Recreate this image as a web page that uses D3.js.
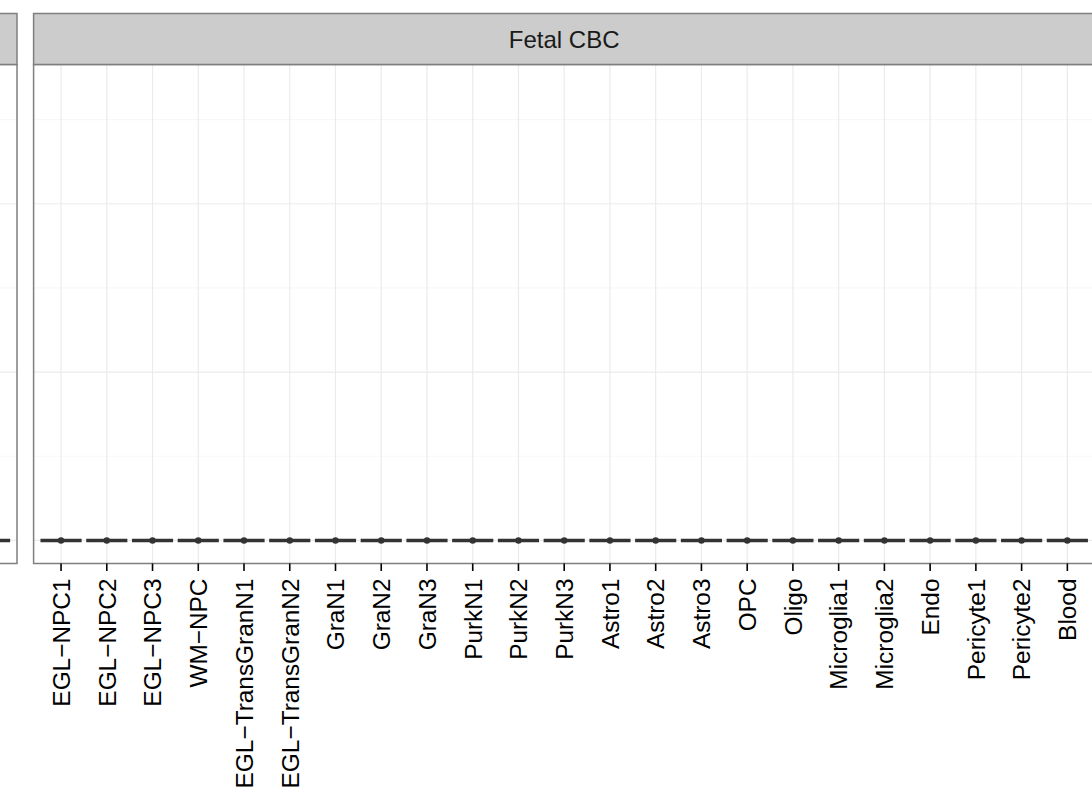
<!DOCTYPE html>
<html>
<head>
<meta charset="utf-8">
<script src="https://cdn.jsdelivr.net/npm/d3@7"></script>
<style>
  html, body { margin: 0; padding: 0; background: #ffffff; }
  svg { display: block; }
  text { font-family: "Liberation Sans", Arial, sans-serif; }
</style>
</head>
<body>
<script>
// ---- data ----
const categories = ["EGL\u2212NPC1", "EGL\u2212NPC2", "EGL\u2212NPC3", "WM\u2212NPC",
  "EGL\u2212TransGranN1", "EGL\u2212TransGranN2", "GraN1", "GraN2", "GraN3",
  "PurkN1", "PurkN2", "PurkN3", "Astro1", "Astro2", "Astro3", "OPC", "Oligo",
  "Microglia1", "Microglia2", "Endo", "Pericyte1", "Pericyte2", "Blood"];
const panelNames = ["", "Fetal CBC"];
const leftPanelValues  = [0,0,0,0,0,0,0,0,0,0,0,0,0,0,0,0,0,0,0,0,0,0,0];
const fetalCBCValues   = [0,0,0,0,0,0,0,0,0,0,0,0,0,0,0,0,0,0,0,0,0,0,0];
const yMajorTicks = [0, 1, 2];
const yMinorTicks = [0.5, 1.5, 2.5];

// ---- layout ----
const W = 1092, H = 793;
const svg = d3.select("body").append("svg").attr("width", W).attr("height", H);

const stripTop = 13.5, panelTop = 64.5, panelBottom = 563.5;
const y = d3.scaleLinear().domain([-0.137, 2.827]).range([panelBottom, panelTop]);

const panelW = 1061.2;
const panels = [
  { name: panelNames[0], x0: 17 - panelW, values: leftPanelValues, labels: false },
  { name: panelNames[1], x0: 33.6, values: fetalCBCValues, labels: true }
];

panels.forEach(p => {
  const x = d3.scaleBand().domain(categories)
    .range([p.x0, p.x0 + panelW]).paddingInner(0).paddingOuter(0.1);
  const g = svg.append("g");
  const x1 = p.x0, x2 = p.x0 + panelW;

  // minor grid
  g.selectAll("line.ymin").data(yMinorTicks).join("line")
    .attr("x1", x1).attr("x2", x2)
    .attr("y1", d => y(d)).attr("y2", d => y(d))
    .attr("stroke", "#F7F7F7").attr("stroke-width", 1.2);
  // major grid
  g.selectAll("line.ymaj").data(yMajorTicks).join("line")
    .attr("x1", x1).attr("x2", x2)
    .attr("y1", d => y(d)).attr("y2", d => y(d))
    .attr("stroke", "#EBEBEB").attr("stroke-width", 1.2);
  g.selectAll("line.xmaj").data(categories).join("line")
    .attr("x1", d => x(d) + x.bandwidth() / 2).attr("x2", d => x(d) + x.bandwidth() / 2)
    .attr("y1", panelTop).attr("y2", panelBottom)
    .attr("stroke", "#EBEBEB").attr("stroke-width", 1.2);

  // data: collapsed boxes
  const bw = x.bandwidth() * 0.9;
  g.selectAll("line.box").data(p.values).join("line")
    .attr("x1", (d, i) => x(categories[i]) + x.bandwidth() / 2 - bw / 2)
    .attr("x2", (d, i) => x(categories[i]) + x.bandwidth() / 2 + bw / 2)
    .attr("y1", d => y(d)).attr("y2", d => y(d))
    .attr("stroke", "#333333").attr("stroke-width", 3.4);
  g.selectAll("circle.pt").data(p.values).join("circle")
    .attr("cx", (d, i) => x(categories[i]) + x.bandwidth() / 2)
    .attr("cy", d => y(d)).attr("r", 3.2).attr("fill", "#333333");

  // panel border
  g.append("rect").attr("x", x1).attr("y", panelTop)
    .attr("width", panelW).attr("height", panelBottom - panelTop)
    .attr("fill", "none").attr("stroke", "#7F7F7F").attr("stroke-width", 1.5);
  // strip
  g.append("rect").attr("x", x1).attr("y", stripTop)
    .attr("width", panelW).attr("height", panelTop - stripTop)
    .attr("fill", "#CCCCCC").attr("stroke", "#7F7F7F").attr("stroke-width", 1.5);
  if (p.name) {
    g.append("text").attr("x", (x1 + x2) / 2).attr("y", (stripTop + panelTop) / 2)
      .attr("dy", "0.36em").attr("text-anchor", "middle")
      .attr("font-size", 24).attr("fill", "#1A1A1A").text(p.name);
  }

  // x axis
  const axis = d3.axisBottom(x).tickSize(7.5).tickPadding(0);
  if (!p.labels) axis.tickFormat("");
  const ag = g.append("g").attr("transform", `translate(0,${panelBottom})`).call(axis);
  ag.select(".domain").remove();
  ag.selectAll(".tick line").attr("stroke", "#000").attr("stroke-width", 1.6);
  if (!p.labels) {
    ag.selectAll(".tick text").remove();
  } else {
    ag.selectAll(".tick text")
      .attr("font-size", 24.4).attr("fill", "#000")
      .attr("text-anchor", "end")
      .attr("transform", "translate(0,15) rotate(-90)")
      .attr("x", 0).attr("y", 0).attr("dy", "0.36em")
      .style("font-family", "'Liberation Sans', Arial, sans-serif");
  }
});
</script>
</body>
</html>
